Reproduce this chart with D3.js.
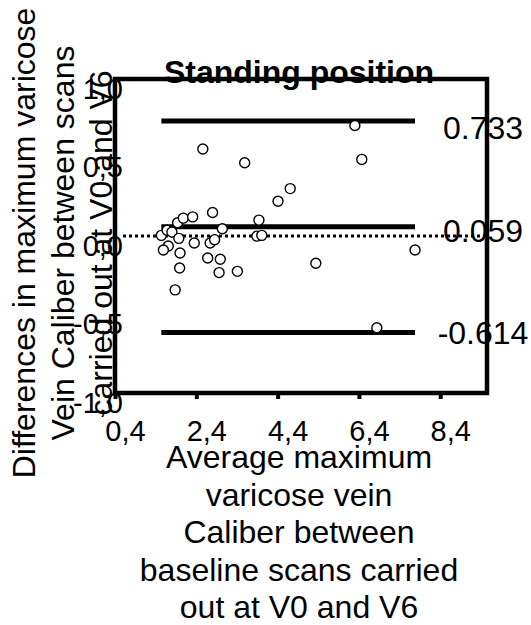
<!DOCTYPE html>
<html>
<head>
<meta charset="utf-8">
<script src="https://cdn.jsdelivr.net/npm/d3@7"></script>
<style>
  body { margin: 0; background: white; }
  text { font-family: "Liberation Sans", Arial, sans-serif; fill: black; }
</style>
</head>
<body>
<div id="chart"></div>
<script>
// Average maximum caliber (x) and difference between scans (y)
var avgCaliber = [1.54, 1.68, 1.80, 1.94, 2.08, 2.31, 1.97, 1.71, 1.59, 2.00, 1.99, 1.88,
    2.35, 2.74, 2.85, 3.04, 2.68, 2.99, 2.96, 3.41, 3.89, 4.01, 3.94, 2.80,
    2.56, 3.59, 4.41, 4.71, 5.34, 6.30, 6.47, 6.84, 7.78];
var diffCaliber = [0.004, 0.037, 0.025, 0.084, 0.114, 0.122, -0.015, -0.064, -0.089, -0.108, -0.204, -0.343,
    -0.045, -0.045, -0.023, 0.046, -0.140, -0.148, -0.233, -0.225, -0.001, 0.004, 0.101, 0.150,
    0.554, 0.467, 0.221, 0.302, -0.174, 0.704, 0.488, -0.584, -0.089];

// Bland-Altman limits: upper, bias, lower
var limitValues = [0.733, 0.059, -0.614];
var limitLabels = ["0.733", "0.059", "-0.614"];

var xTickValues = [0.4, 2.4, 4.4, 6.4, 8.4];
var xTickLabels = ["0,4", "2,4", "4,4", "6,4", "8,4"];
var yTickValues = [-1, -0.5, 0, 0.5, 1];
var yTickLabels = ["-1,0", "-0,5", "0,0", "0,5", "1,0"];

var titleText = "Standing position";
var xTitleLines = ["Average maximum", "varicose vein", "Caliber between", "baseline scans carried", "out at V0 and V6"];
var yTitleLines = ["Differences in maximum varicose", "Vein Caliber between scans", "carried out at V0 and V6"];

var svgWidth = 531;
var svgHeight = 625;
var margin = { top: 79, right: 44, bottom: 232, left: 115 };
var width = svgWidth - margin.left - margin.right;
var height = svgHeight - margin.top - margin.bottom;
var fontSize = 32;
var tickFontSize = 29;

var svg = d3.select("#chart").append("svg")
    .attr("width", svgWidth)
    .attr("height", svgHeight);

svg.append("rect").attr("width", svgWidth).attr("height", svgHeight).attr("fill", "white");

var points = avgCaliber.map((x, i) => ({ x: x, y: diffCaliber[i] }));

var xScale = d3.scaleLinear().domain([0.4, 9.55]).range([0, width]);
var yScale = d3.scaleLinear().domain([-1, 1]).range([height, 0]);

// y axis title (rotated, three lines)
var yTitle = svg.append("text")
    .attr("transform", "translate(0, 243) rotate(-90)")
    .attr("text-anchor", "middle")
    .style("font-size", fontSize + "px");
yTitleLines.forEach((line, i) => {
    yTitle.append("tspan").attr("x", 0).attr("y", 35 + i * 38.5).text(line);
});

// x axis title (five lines)
var xTitle = svg.append("text")
    .attr("text-anchor", "middle")
    .style("font-size", fontSize + "px");
xTitleLines.forEach((line, i) => {
    xTitle.append("tspan").attr("x", 299).attr("y", 468 + i * 37.5).text(line);
});

var chartGroup = svg.append("g")
    .attr("transform", `translate(${margin.left}, ${margin.top})`);

// bottom axis
var bottomAxis = d3.axisBottom(xScale)
    .tickValues(xTickValues)
    .tickFormat((d, i) => xTickLabels[i])
    .tickSize(6);
var xAxis = chartGroup.append("g")
    .attr("transform", `translate(0, ${height})`)
    .call(bottomAxis);
xAxis.select(".domain").remove();
xAxis.selectAll(".tick line").attr("stroke", "black").attr("stroke-width", 4);
xAxis.selectAll(".tick text")
    .attr("y", 48).attr("dy", 0).attr("dx", 10)
    .style("font-size", tickFontSize + "px")
    .attr("font-family", null);

// left axis
var leftAxis = d3.axisLeft(yScale)
    .tickValues(yTickValues)
    .tickFormat((d, i) => yTickLabels[i])
    .tickSize(0);
var yAxis = chartGroup.append("g").call(leftAxis);
yAxis.select(".domain").remove();
yAxis.selectAll(".tick text")
    .attr("x", 8).attr("dy", 19)
    .style("font-size", tickFontSize + "px")
    .attr("font-family", null);

// frame
chartGroup.append("rect")
    .attr("width", width).attr("height", height)
    .attr("fill", "none").attr("stroke", "black").attr("stroke-width", 4.5);

// title
chartGroup.append("text")
    .attr("x", width / 2 - 2).attr("y", 4)
    .attr("text-anchor", "middle")
    .style("font-size", fontSize + "px")
    .style("font-weight", "bold")
    .text(titleText);

// zero reference line
chartGroup.append("line")
    .attr("x1", 8).attr("x2", width)
    .attr("y1", yScale(0)).attr("y2", yScale(0))
    .attr("stroke", "black").attr("stroke-width", 3)
    .attr("stroke-dasharray", "3,3");

// bias and limits of agreement
var xExtent = d3.extent(avgCaliber);
chartGroup.selectAll(".limit")
    .data(limitValues)
    .enter()
    .append("line")
    .classed("limit", true)
    .attr("x1", xScale(xExtent[0])).attr("x2", xScale(xExtent[1]))
    .attr("y1", d => yScale(d)).attr("y2", d => yScale(d))
    .attr("stroke", "black").attr("stroke-width", 5);

// points
chartGroup.selectAll("circle")
    .data(points)
    .enter()
    .append("circle")
    .attr("cx", d => xScale(d.x))
    .attr("cy", d => yScale(d.y))
    .attr("r", 5)
    .attr("fill", "white")
    .attr("stroke", "black")
    .attr("stroke-width", 1.4);

// limit labels at right
var labelShift = [18, 15, 12];
chartGroup.selectAll(".limit-label")
    .data(limitValues)
    .enter()
    .append("text")
    .classed("limit-label", true)
    .attr("x", width - 4)
    .attr("y", (d, i) => yScale(d) + labelShift[i])
    .attr("text-anchor", "middle")
    .style("font-size", fontSize + "px")
    .text((d, i) => limitLabels[i]);
</script>
</body>
</html>
